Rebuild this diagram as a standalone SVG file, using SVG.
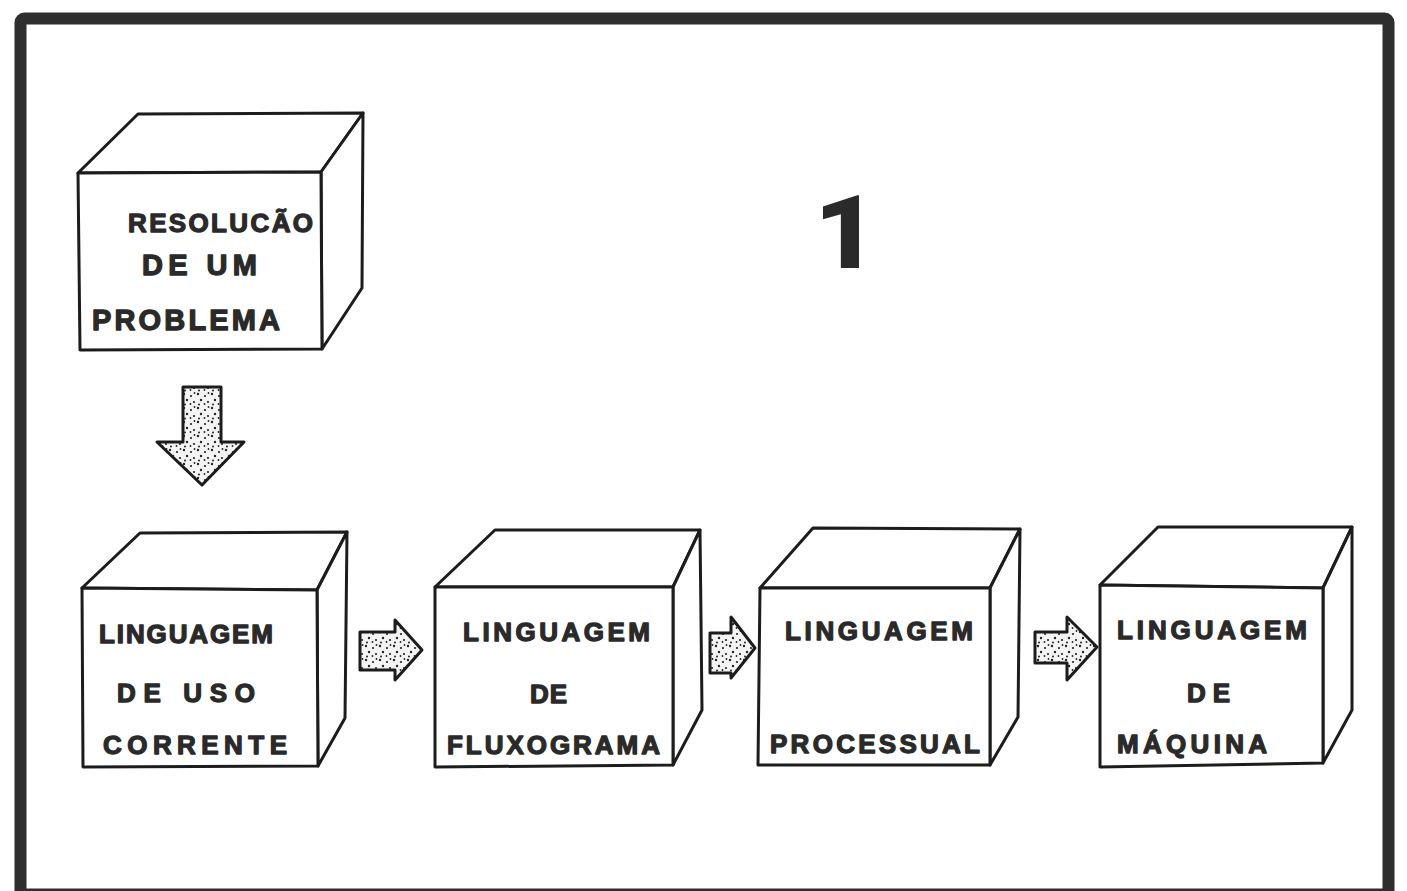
<svg xmlns="http://www.w3.org/2000/svg" width="1407" height="891" viewBox="0 0 1407 891">
<defs>
<pattern id="stip" width="14" height="14" patternUnits="userSpaceOnUse">
<rect width="14" height="14" fill="#f4f4f4"/>
<circle cx="2" cy="2" r="1.2" fill="#222"/>
<circle cx="9" cy="4" r="1.1" fill="#222"/>
<circle cx="5" cy="8" r="1.2" fill="#222"/>
<circle cx="12" cy="10" r="1.1" fill="#222"/>
<circle cx="3" cy="12.5" r="1" fill="#222"/>
<circle cx="8.5" cy="12" r="0.9" fill="#222"/>
<circle cx="12.5" cy="1" r="0.9" fill="#222"/>
</pattern>
<style>
.face{fill:#fff;stroke:#1c1c1c;stroke-width:3;stroke-linejoin:round}
.lbl{font-family:"Liberation Sans",Arial,sans-serif;font-weight:bold;font-size:26px;fill:#2a2a2a;stroke:#2a2a2a;stroke-width:1.3;stroke-linejoin:round}
.big{font-size:29px}
.arrow{fill:url(#stip);stroke:#1c1c1c;stroke-width:3;stroke-linejoin:round}
</style>
</defs>
<rect x="0" y="0" width="1407" height="891" fill="#fff"/>
<rect id="frame" x="20.5" y="18.5" width="1368" height="876" rx="4" fill="none" stroke="#2e2e2e" stroke-width="12"/>

<g id="node-resolucao">
<polygon class="face" points="78,173 138,114 363,113 321,172"/>
<polygon class="face" points="321,172 363,113 362,288 322,349"/>
<polygon class="face" points="78,173 321,172 322,349 80,350"/>
<text class="lbl" x="128" y="232" textLength="185" lengthAdjust="spacing">RESOLUCÃO</text>
<text class="lbl big" x="142" y="275" textLength="115" lengthAdjust="spacing">DE  UM</text>
<text class="lbl big" x="92" y="330" textLength="188" lengthAdjust="spacing">PROBLEMA</text>
</g>

<g id="node-uso-corrente">
<polygon class="face" points="82,588 140,533 347,532 317,590"/>
<polygon class="face" points="317,590 347,532 345,718 318,766"/>
<polygon class="face" points="82,588 317,590 318,766 83,767"/>
<text class="lbl" x="99" y="643" textLength="174" lengthAdjust="spacing">LINGUAGEM</text>
<text class="lbl" x="117" y="702" textLength="138" lengthAdjust="spacing">DE  USO</text>
<text class="lbl" x="103" y="754" textLength="184" lengthAdjust="spacing">CORRENTE</text>
</g>

<g id="node-fluxograma">
<polygon class="face" points="435,587 495,530 700,530 673,587"/>
<polygon class="face" points="673,587 700,530 702,710 673,765"/>
<polygon class="face" points="435,587 673,587 673,765 435,767"/>
<text class="lbl" x="463" y="641" textLength="187" lengthAdjust="spacing">LINGUAGEM</text>
<text class="lbl" x="530" y="703" textLength="37" lengthAdjust="spacing">DE</text>
<text class="lbl" x="447" y="754" textLength="213" lengthAdjust="spacing">FLUXOGRAMA</text>
</g>

<g id="node-processual">
<polygon class="face" points="760,588 813,528 1020,529 990,588"/>
<polygon class="face" points="990,588 1020,529 1018,717 990,765"/>
<polygon class="face" points="760,588 990,588 990,765 758,765"/>
<text class="lbl" x="785" y="640" textLength="188" lengthAdjust="spacing">LINGUAGEM</text>
<text class="lbl" x="770" y="753" textLength="210" lengthAdjust="spacing">PROCESSUAL</text>
</g>

<g id="node-maquina">
<polygon class="face" points="1100,585 1158,527 1352,527 1323,588"/>
<polygon class="face" points="1323,588 1352,527 1352,710 1323,763"/>
<polygon class="face" points="1100,585 1323,588 1323,763 1100,767"/>
<text class="lbl" x="1117" y="639" textLength="190" lengthAdjust="spacing">LINGUAGEM</text>
<text class="lbl" x="1187" y="702" textLength="43" lengthAdjust="spacing">DE</text>
<text class="lbl" x="1117" y="753" textLength="150" lengthAdjust="spacing">MÁQUINA</text>
</g>

<g id="title">
<text x="846" y="268" text-anchor="middle" transform="translate(846 268) scale(1.08 1) translate(-846 -268)" style="font-family:Roboto,'Open Sans',sans-serif;font-weight:900;font-size:102px;fill:#2a2a2a">1</text>
</g>

<g id="connectors">
<polygon class="arrow" points="183,387 221,387 221,442 244,442 202,485 157,442 183,442"/>
<polygon class="arrow" points="360,632 395,632 395,620 422,650 395,680 395,670 360,670"/>
<polygon class="arrow" points="710,633 731,633 731,617 755,648 731,678 731,673 710,673"/>
<polygon class="arrow" points="1035,632 1067,632 1067,617 1097,647 1067,680 1067,663 1035,663"/>
</g>
</svg>
